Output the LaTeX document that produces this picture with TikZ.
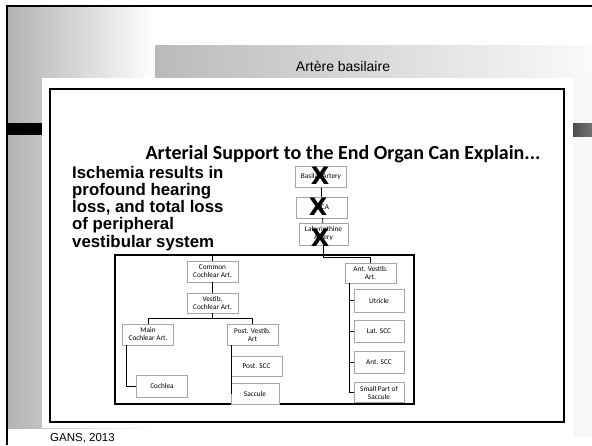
\documentclass[tikz,border=0pt]{standalone}
\usepackage{fontspec}
\setmainfont{Liberation Sans}
\newfontfamily\calfont{Carlito}
\newfontfamily\heavyfont{DejaVu Sans}
\usepackage{tikz}
\usetikzlibrary{positioning,calc,shadows}
\tikzset{
  artbox/.style={rectangle,draw=black!35,fill=white,line width=0.5pt,align=center,
    minimum width=51pt,minimum height=21pt,inner sep=1pt,
    font=\calfont\fontsize{7.3}{8}\selectfont,
    drop shadow={shadow xshift=0.8pt,shadow yshift=-0.8pt,opacity=0.35}},
  xmark/.style={inner sep=0pt,font=\heavyfont\bfseries\fontsize{24}{24}\selectfont},
  link/.style={draw=black,line width=0.8pt},
}

\begin{document}
\begin{tikzpicture}[x=1pt,y=-1pt]
  \useasboundingbox (0,0) rectangle (592,445);
  % slide background
  \shade[left color=black!30,right color=white] (8,7) rectangle (155,428);
  \shade[left color=black!27,right color=black!2] (155,45) rectangle (592,78);
  \fill[black!3] (573,78) rectangle (592,437);
  \fill[white] (42,78) rectangle (573,428);
  \fill[black] (7,123) rectangle (42,135);
  \shade[left color=black!70,right color=black!55] (573,123) rectangle (592,136);
  \draw[line width=1.5pt] (7,445) -- (7,6) -- (592,6);
  \node[font=\fontsize{14}{16}\selectfont] (head) at (343,66) {Artère basilaire};
  \draw[line width=2.5pt] (50,89) rectangle (564,422);
  \node[anchor=west,inner sep=0pt,font=\fontsize{11.5}{13}\selectfont] (gans) at (50,438) {GANS, 2013};

  % slide contents
  \node[font=\calfont\bfseries\fontsize{20}{22}\selectfont] (title) at (343,154)
    {Arterial Support to the End Organ Can Explain...};
  \node[anchor=north west,inner sep=0pt,align=left,font=\bfseries\fontsize{16.8}{17.2}\selectfont] (ischemia) at (72,166)
    {Ischemia results in\\profound hearing\\loss, and total loss\\of peripheral\\vestibular system};

  \node[artbox] (basilar) at (321,177) {Basilar Artery};
  \node[artbox] (aica) at (322,207.5) {AICA};
  \node[artbox,minimum width=49pt,minimum height=22pt] (laby) at (323.5,234) {Labyrinthine\\Artery};

  \draw[line width=2pt] (115,255) rectangle (414,404);

  \node[artbox] (common) at (212.5,271.5) {Common\\Cochlear Art.};
  \node[artbox,minimum height=20pt] (vestco) at (212.5,303) {Vestib.\\Cochlear Art.};
  \node[artbox] (maincoch) at (148,334.5) {Main\\Cochlear Art.};
  \node[artbox] (postvest) at (252.5,334.5) {Post. Vestib.\\Art};
  \node[artbox,minimum height=22pt] (cochlea) at (162,386) {Cochlea};
  \node[artbox,minimum height=20pt] (postscc) at (256.5,366) {Post. SCC};
  \node[artbox,minimum width=48pt] (saccule) at (255,393.5) {Saccule};
  \node[artbox,minimum height=20pt] (antvest) at (370.5,273) {Ant. Vestib.\\Art.};
  \node[artbox,minimum width=50pt,minimum height=23pt] (utricle) at (379,300.5) {Utricle};
  \node[artbox,minimum width=50pt,minimum height=22pt] (latscc) at (379,331) {Lat. SCC};
  \node[artbox,minimum width=50pt,minimum height=22pt] (antscc) at (379,362) {Ant. SCC};
  \node[artbox,minimum width=50pt,minimum height=20pt] (smallsac) at (379,392.5) {Small Part of\\Saccule};

  \draw[link] (basilar) -- (aica);
  \draw[link] (aica) -- (laby);
  \draw[link] (laby.south) -- ++(0,10) -| (common.north);
  \draw[link] (laby.south) -- ++(0,12) -| (antvest.north);
  \draw[link] (common) -- (vestco);
  \draw[link] (vestco.south) -- ++(0,5) -| (maincoch.north);
  \draw[link] (vestco.south) -- ++(0,5) -| (postvest.north);
  \draw[link] (maincoch.south west) ++(4,0) |- (cochlea.west);
  \draw[link] (postvest.south west) ++(5,0) |- (postscc.west);
  \draw[link] (postvest.south west) ++(5,0) |- (saccule.west);
  \foreach \leaf in {utricle,latscc,antscc,smallsac}
    \draw[link] (antvest.south west) ++(5,0) |- (\leaf.west);

  % crossed-out vessels
  \node[xmark] (xbas) at (320,176) {X};
  \node[xmark] (xaica) at (318,207) {X};
  \node[xmark] (xlaby) at (320,238) {X};
\end{tikzpicture}
\end{document}
